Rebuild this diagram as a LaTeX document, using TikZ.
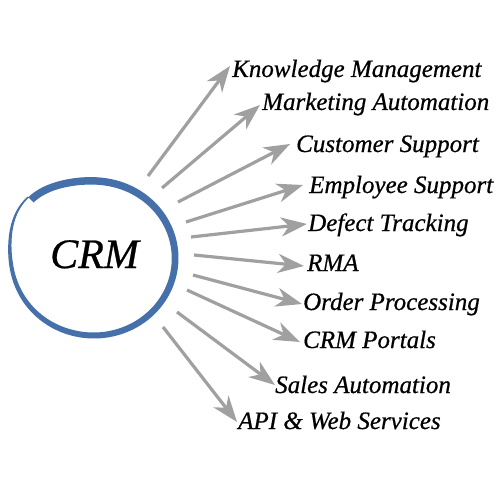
\documentclass[tikz,border=0pt]{standalone}
\usepackage{fontspec}
\setmainfont{Liberation Serif}
\newfontface\lblfont{Liberation Serif Italic}[FakeBold=0.6]
\usetikzlibrary{arrows.meta}
\definecolor{ringblue}{RGB}{70,112,170}
\definecolor{arrowgray}{RGB}{160,160,160}
\begin{document}
\begin{tikzpicture}[x=1pt,y=-1pt,
  lbl/.style={font=\fontsize{25}{29}\lblfont, anchor=base west, inner sep=0pt},
  arr/.style={draw=arrowgray, line width=3.2pt, -{Stealth[length=26pt,width=19pt,inset=8pt]}},
  declare function={
    wd(\t)=min(min(1.6+0.05*(\t-137),3.8+0.0278*(\t-180)),min(6+0.00833*(\t-270),7.5));
    bl(\t)=8*exp(max(-9,-((\t-140)/28)*((\t-140)/28)))+7*exp(max(-9,-((\t-498)/28)*((\t-498)/28)));
  }]
\fill[white] (0,0) rectangle (500,500);
\useasboundingbox (0,0) rectangle (500,500);

% hand-drawn ring
\fill[ringblue] plot[domain=136:496, samples=180]
   ({94+(84.5+bl(\x))*cos(\x)}, {258-(80.5+bl(\x))*sin(\x)})
   -- plot[domain=496:136, samples=180]
   ({94+(84.5+bl(\x)-wd(\x))*cos(\x)}, {258-(80.5+bl(\x)-wd(\x))*sin(\x)}) -- cycle;

\node[font=\fontsize{42}{46}\lblfont, anchor=base west, inner sep=0pt] (crm) at (50,268) {CRM};

% labels
\node[lbl] (l1) at (232,77) {Knowledge Management};
\node[lbl] (l2) at (262,110) {Marketing Automation};
\node[lbl] (l3) at (296,152) {Customer Support};
\node[lbl] (l4) at (309,193) {Employee Support};
\node[lbl] (l5) at (308,231) {Defect Tracking};
\node[lbl] (l6) at (307,271) {RMA};
\node[lbl] (l7) at (303,310) {Order Processing};
\node[lbl] (l8) at (303,348) {CRM Portals};
\node[lbl] (l9) at (275,393) {Sales Automation};
\node[lbl] (l10) at (238,429) {API \& Web Services};

% arrow ends
\coordinate (s1) at (148,176);  \coordinate (e1) at (230,66);
\coordinate (s2) at (162,188);  \coordinate (e2) at (260,105);
\coordinate (s3) at (178,202);  \coordinate (e3) at (290,144);
\coordinate (s4) at (186,222);  \coordinate (e4) at (303,185);
\coordinate (s5) at (191,237);  \coordinate (e5) at (307,224);
\coordinate (s6) at (194,255);  \coordinate (e6) at (304,266);
\coordinate (s7) at (193,275);  \coordinate (e7) at (302,304);
\coordinate (s8) at (187,290);  \coordinate (e8) at (300,342);
\coordinate (s9) at (177,312);  \coordinate (e9) at (275,385);
\coordinate (s10) at (163,327); \coordinate (e10) at (237,422);

\foreach \i in {1,...,10} { \draw[arr] (s\i) -- (e\i); }
\end{tikzpicture}
\end{document}
